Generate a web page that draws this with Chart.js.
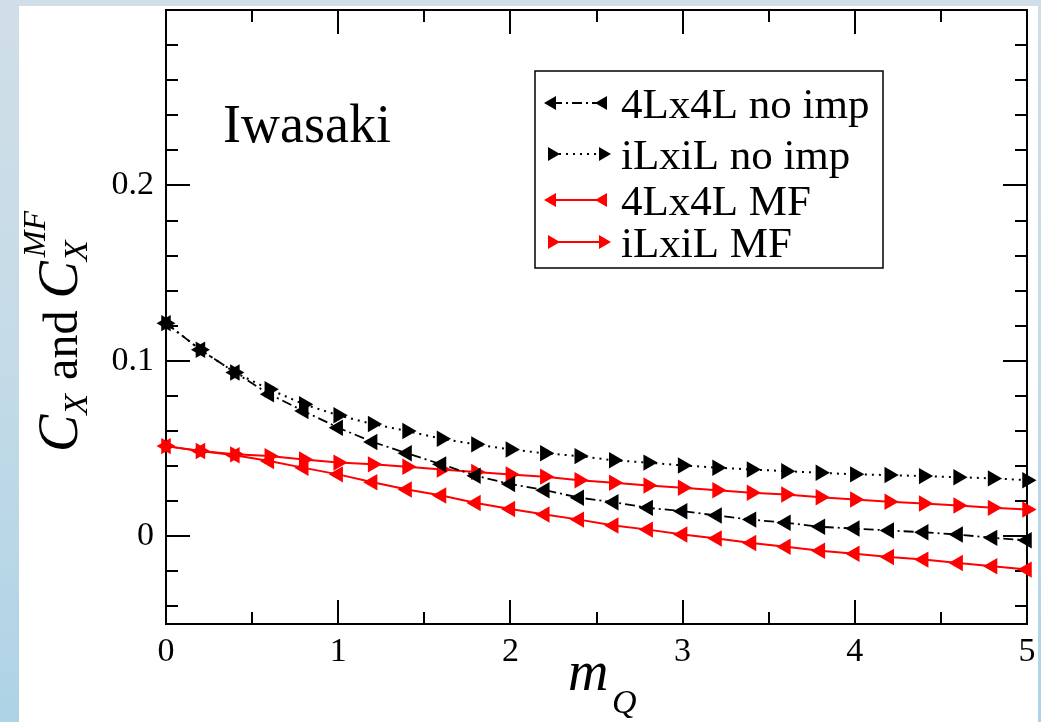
<!DOCTYPE html>
<html>
<head>
<meta charset="utf-8">
<script src="https://cdn.jsdelivr.net/npm/chart.js@4.4.0/dist/chart.umd.min.js"></script>
<style>
  html, body { margin: 0; padding: 0; }
  body { width: 1041px; height: 722px; overflow: hidden; position: relative;
         background: linear-gradient(to bottom, #d0dee7 0%, #c4dbe7 50%, #aed3e6 100%); }
  #paper { position: absolute; left: 19px; top: 6px; width: 1019px; height: 716px; background: #ffffff; }
  #wrap { position: absolute; left: 0; top: 0; width: 1041px; height: 722px; }
</style>
</head>
<body>
<div id="paper"></div>
<div id="wrap"><canvas id="c" width="1041" height="722"></canvas></div>
<script>
// ---- data ----
const mQ = [0, 0.2, 0.4, 0.6, 0.8, 1.0, 1.2, 1.4, 1.6, 1.8, 2.0, 2.2, 2.4, 2.6, 2.8, 3.0, 3.2, 3.4, 3.6, 3.8, 4.0, 4.2, 4.4, 4.6, 4.8, 5.0];
const noImp4L = [0.1215, 0.1063, 0.0934, 0.0810, 0.0714, 0.0619, 0.0538, 0.0473, 0.0410, 0.0345, 0.0298, 0.0263, 0.0220, 0.0194, 0.0162, 0.0143, 0.0118, 0.0095, 0.0077, 0.0054, 0.0044, 0.0033, 0.0023, 0.0010, -0.0009, -0.0023];
const noImpiL = [0.1215, 0.1063, 0.0934, 0.0838, 0.0753, 0.0690, 0.0640, 0.0600, 0.0556, 0.0524, 0.0495, 0.0473, 0.0457, 0.0433, 0.0420, 0.0404, 0.0391, 0.0381, 0.0371, 0.0362, 0.0353, 0.0349, 0.0343, 0.0337, 0.0330, 0.0320];
const mf4L = [0.0514, 0.0486, 0.0462, 0.0429, 0.0390, 0.0353, 0.0308, 0.0267, 0.0233, 0.0190, 0.0156, 0.0124, 0.0095, 0.0061, 0.0038, 0.0010, -0.0013, -0.0038, -0.0060, -0.0082, -0.0099, -0.0118, -0.0133, -0.0152, -0.0171, -0.0190];
const mfiL = [0.0514, 0.0486, 0.0467, 0.0457, 0.0438, 0.0420, 0.0410, 0.0396, 0.0381, 0.0366, 0.0352, 0.0340, 0.0320, 0.0305, 0.0290, 0.0277, 0.0263, 0.0248, 0.0238, 0.0223, 0.0210, 0.0197, 0.0187, 0.0175, 0.0162, 0.0153];
const seriesNames = ['4Lx4L no imp', 'iLxiL no imp', '4Lx4L MF', 'iLxiL MF'];
const xTickLabels = [0, 1, 2, 3, 4, 5];
const yTickLabels = [0, 0.1, 0.2];
const xMinorTicks = [0.5, 1.5, 2.5, 3.5, 4.5];
const yMinorTicks = [-0.04, -0.02, 0.02, 0.04, 0.06, 0.08, 0.12, 0.14, 0.16, 0.18, 0.22, 0.24, 0.26, 0.28];
const panelLabel = 'Iwasaki';

const SERIF = '"Liberation Serif", "Times New Roman", serif';
const pts = arr => mQ.map((x, i) => ({ x: x, y: arr[i] }));

const styles = [
  { color: '#000000', dash: [10, 4, 2, 4], width: 1.8, rot: 270 },
  { color: '#000000', dash: [2, 5], width: 2, rot: 90 },
  { color: '#ff0000', dash: [], width: 2, rot: 270 },
  { color: '#ff0000', dash: [], width: 2, rot: 90 }
];
const seriesData = [noImp4L, noImpiL, mf4L, mfiL];

const datasets = seriesData.map((arr, i) => ({
  label: seriesNames[i],
  data: pts(arr),
  borderColor: styles[i].color,
  backgroundColor: styles[i].color,
  borderWidth: styles[i].width,
  borderDash: styles[i].dash,
  pointStyle: 'triangle',
  pointRotation: styles[i].rot,
  pointRadius: 9.5,
  pointBorderWidth: 0,
  pointBackgroundColor: styles[i].color,
  pointBorderColor: styles[i].color,
  tension: 0,
  clip: false
}));

const framePlugin = {
  id: 'frame',
  beforeDatasetsDraw(chart) {
    const { ctx, chartArea: a, scales } = chart;
    const xs = scales.x, ys = scales.y;
    ctx.save();
    ctx.strokeStyle = '#000';
    ctx.lineWidth = 2;
    ctx.setLineDash([]);
    ctx.strokeRect(a.left, a.top, a.right - a.left, a.bottom - a.top);
    ctx.beginPath();
    const MAJ = 24, MIN = 12;
    xTickLabels.forEach(v => {
      const px = Math.round(xs.getPixelForValue(v));
      ctx.moveTo(px, a.bottom); ctx.lineTo(px, a.bottom - MAJ);
      ctx.moveTo(px, a.top); ctx.lineTo(px, a.top + MAJ);
    });
    xMinorTicks.forEach(v => {
      const px = Math.round(xs.getPixelForValue(v));
      ctx.moveTo(px, a.bottom); ctx.lineTo(px, a.bottom - MIN);
      ctx.moveTo(px, a.top); ctx.lineTo(px, a.top + MIN);
    });
    yTickLabels.forEach(v => {
      const py = Math.round(ys.getPixelForValue(v));
      ctx.moveTo(a.left, py); ctx.lineTo(a.left + MAJ, py);
      ctx.moveTo(a.right, py); ctx.lineTo(a.right - MAJ, py);
    });
    yMinorTicks.forEach(v => {
      const py = Math.round(ys.getPixelForValue(v));
      ctx.moveTo(a.left, py); ctx.lineTo(a.left + MIN, py);
      ctx.moveTo(a.right, py); ctx.lineTo(a.right - MIN, py);
    });
    ctx.stroke();
    ctx.restore();
  },
  afterDraw(chart) {
    const { ctx } = chart;
    ctx.save();
    ctx.fillStyle = '#000';
    ctx.textBaseline = 'alphabetic';
    // panel label
    ctx.font = 'normal 54px ' + SERIF;
    ctx.textAlign = 'left';
    ctx.fillText(panelLabel, 223, 142);

    // legend box
    const L = { x: 535, y: 71, w: 348, h: 197 };
    ctx.lineWidth = 1.5;
    ctx.strokeStyle = '#000';
    ctx.strokeRect(L.x, L.y, L.w, L.h);
    const rows = [103, 154, 200, 242];
    chart.data.datasets.forEach((ds, i) => {
      const y = rows[i];
      const x1 = 552, x2 = 603;
      ctx.save();
      ctx.strokeStyle = ds.borderColor;
      ctx.lineWidth = ds.borderWidth;
      ctx.setLineDash(ds.borderDash);
      ctx.beginPath(); ctx.moveTo(x1, y); ctx.lineTo(x2, y); ctx.stroke();
      ctx.setLineDash([]);
      const opts = { pointStyle: 'triangle', rotation: ds.pointRotation, radius: 8, borderWidth: 0 };
      ctx.fillStyle = ds.pointBackgroundColor;
      ctx.strokeStyle = ds.pointBorderColor;
      Chart.helpers.drawPoint(ctx, opts, x1, y);
      Chart.helpers.drawPoint(ctx, opts, x2, y);
      ctx.restore();
      ctx.font = 'normal 43px ' + SERIF;
      ctx.fillStyle = '#000';
      ctx.fillText(ds.label, 621, y + 15);
    });

    // x-axis title  m_Q
    ctx.font = 'italic 56px ' + SERIF;
    ctx.fillText('m', 568, 690);
    ctx.font = 'italic 34px ' + SERIF;
    ctx.fillText('Q', 612, 713);

    // y-axis title  C_X and C_X^MF (rotated)
    ctx.translate(77, 452);
    ctx.rotate(-Math.PI / 2);
    let u = 0;
    const put = (txt, font, dv) => {
      ctx.font = font;
      ctx.fillText(txt, u, dv);
      return ctx.measureText(txt).width;
    };
    u += put('C', 'italic 56px ' + SERIF, 0);
    u += put('X', 'italic 34px ' + SERIF, 10) + 2;
    u += put(' and ', 'normal 48px ' + SERIF, 0);
    u += put('C', 'italic 56px ' + SERIF, 0);
    const sx = u;
    put('X', 'italic 34px ' + SERIF, 10);
    u = sx + 4;
    put('MF', 'italic 32px ' + SERIF, -32);
    ctx.restore();
  }
};

new Chart(document.getElementById('c'), {
  type: 'line',
  data: { datasets: datasets },
  options: {
    responsive: false,
    animation: false,
    layout: { padding: { left: 0, right: 14, top: 10, bottom: 0 } },
    plugins: { legend: { display: false }, tooltip: { enabled: false } },
    scales: {
      x: {
        type: 'linear', min: 0, max: 5,
        grid: { display: false, drawTicks: false },
        border: { display: false },
        afterBuildTicks: s => { s.ticks = xTickLabels.map(v => ({ value: v })); },
        afterFit: s => { s.height = 98; s.paddingLeft = 0; s.paddingRight = 0; },
        ticks: { color: '#000', font: { family: SERIF, size: 34 }, padding: 8, maxRotation: 0,
                 callback: v => String(v) }
      },
      y: {
        type: 'linear', min: -0.05, max: 0.3,
        grid: { display: false, drawTicks: false },
        border: { display: false },
        afterBuildTicks: s => { s.ticks = yTickLabels.map(v => ({ value: v })); },
        afterFit: s => { s.width = 166; s.paddingTop = 0; s.paddingBottom = 0; },
        ticks: { color: '#000', font: { family: SERIF, size: 34 }, padding: 12,
                 callback: v => String(v) }
      }
    }
  },
  plugins: [framePlugin]
});
</script>
</body>
</html>
